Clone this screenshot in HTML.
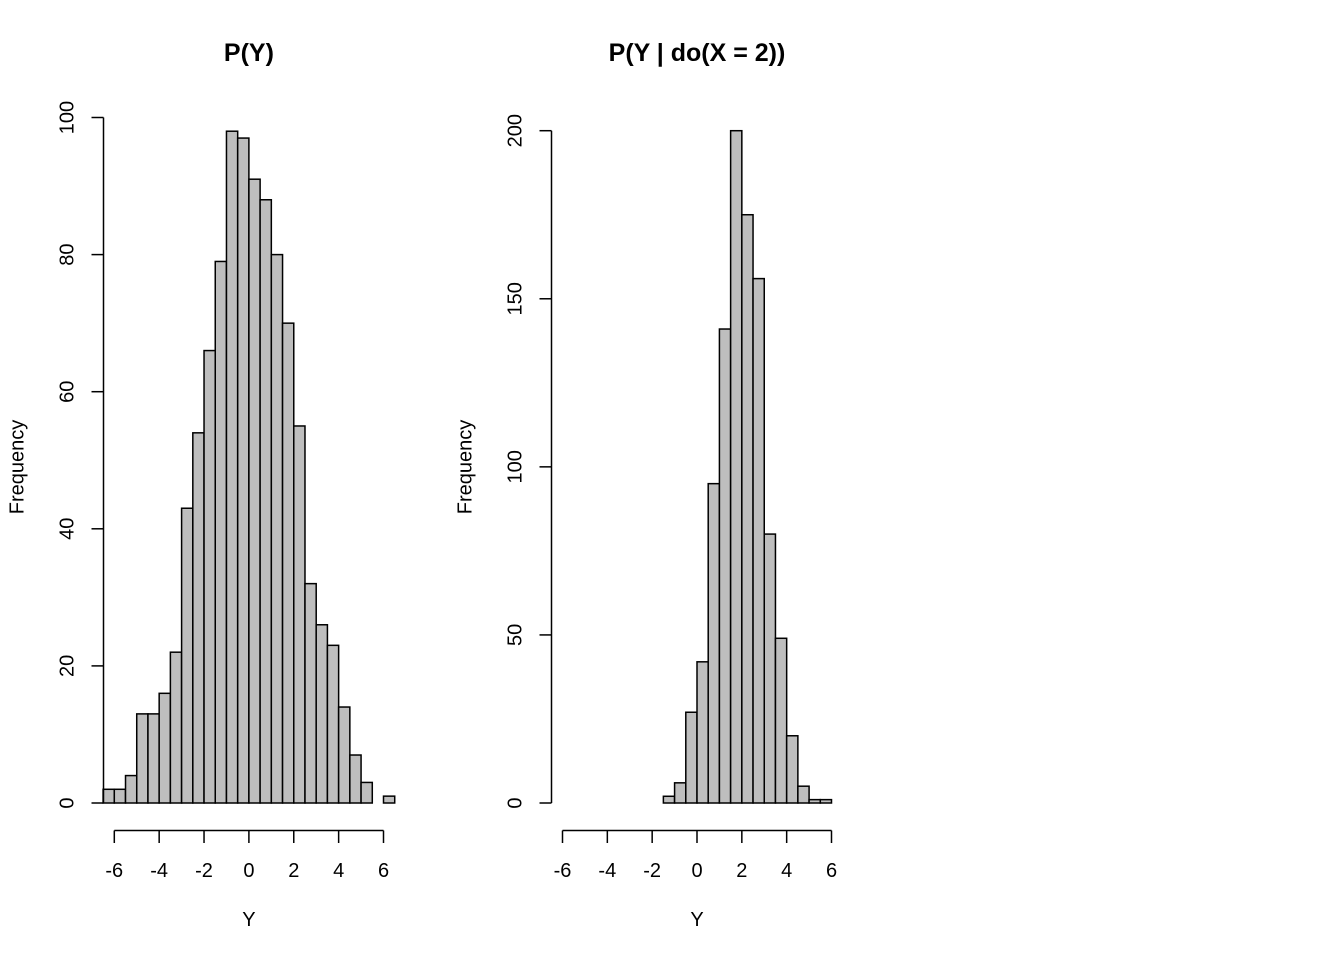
<!DOCTYPE html>
<html><head><meta charset="utf-8"><style>
body{margin:0;background:#fff}
svg{display:block;font-family:"Liberation Sans",Arial,sans-serif}
</style></head><body>
<svg id="c" width="1344" height="960" viewBox="0 0 1344 960"></svg>
<script>
const leftBinStart = -6.5;
const leftCounts = [2,2,4,13,13,16,22,43,54,66,79,98,97,91,88,80,70,55,32,26,23,14,7,3,0,1];
const leftYTicks = [0,20,40,60,80,100];
const rightBinStart = -1.5;
const rightCounts = [2,6,27,42,95,141,200,175,156,80,49,20,5,1,1];
const rightYTicks = [0,50,100,150,200];
const xTicks = [-6,-4,-2,0,2,4,6];
const binWidth = 0.5;

const NS = "http://www.w3.org/2000/svg";
const svg = document.getElementById('c');
function mk(tag, attrs, parent){
  const e = document.createElementNS(NS, tag);
  for (const k in attrs) e.setAttribute(k, attrs[k]);
  (parent||svg).appendChild(e);
  return e;
}
function panel(cfg){
  const g = mk('g', {});
  
  
  const sx = v => cfg.x0 + (v + 6) * (cfg.x6 - cfg.x0) / 12;
  const sy = v => 803 - v * (803 - cfg.yTop) / cfg.yMax;
  cfg.counts.forEach((c, i) => {
    if (c <= 0) return;
    const a = cfg.start + i * binWidth;
    const r = mk('rect', {x: sx(a), y: sy(c), width: sx(a + binWidth) - sx(a), height: sy(0) - sy(c),
      fill: '#bebebe', stroke: '#000', 'stroke-width': 1.5}, g);
    
    
  });
  const ya = mk('g', {}, g);
  
  
  mk('line', {x1: cfg.ax, x2: cfg.ax, y1: sy(cfg.yTicks[0]), y2: sy(cfg.yTicks[cfg.yTicks.length-1]), stroke: '#000', 'stroke-width': 1.5}, ya);
  cfg.yTicks.forEach(t => {
    mk('line', {x1: cfg.ax - 12, x2: cfg.ax, y1: sy(t), y2: sy(t), stroke: '#000', 'stroke-width': 1.5}, ya);
    const tx = mk('text', {x: 0, y: 0, transform: `translate(${cfg.ax - 30},${sy(t)}) rotate(-90)`, 'text-anchor': 'middle', 'font-size': 20}, ya);
    tx.textContent = t;
    
    
  });
  const xa = mk('g', {}, g);
  
  
  mk('line', {x1: sx(xTicks[0]), x2: sx(xTicks[xTicks.length-1]), y1: 830.5, y2: 830.5, stroke: '#000', 'stroke-width': 1.5}, xa);
  xTicks.forEach(t => {
    mk('line', {x1: sx(t), x2: sx(t), y1: 830.5, y2: 843, stroke: '#000', 'stroke-width': 1.5}, xa);
    const tx = mk('text', {x: sx(t), y: 877, 'text-anchor': 'middle', 'font-size': 20}, xa);
    tx.textContent = t;
    
    
  });
  const cx = (cfg.x0 + cfg.x6) / 2;
  const tt = mk('text', {x: cx, y: 61, 'text-anchor': 'middle', 'font-size': 25, 'font-weight': 'bold'}, g);
  tt.textContent = cfg.title;
  
  
  const xl = mk('text', {x: cx, y: 926, 'text-anchor': 'middle', 'font-size': 20}, g);
  xl.textContent = 'Y';
  
  
  const yl = mk('text', {x: 0, y: 0, transform: `translate(${cfg.ax - 80},467) rotate(-90)`, 'text-anchor': 'middle', 'font-size': 20}, g);
  yl.textContent = 'Frequency';
  
  
}
panel({name: 'left-histogram', x0: 114.3, x6: 383.5, ax: 103.5, yTop: 117.5, yMax: 100,
  counts: leftCounts, start: leftBinStart, yTicks: leftYTicks, title: 'P(Y)'});
panel({name: 'right-histogram', x0: 562.5, x6: 831.5, ax: 551.5, yTop: 130.7, yMax: 200,
  counts: rightCounts, start: rightBinStart, yTicks: rightYTicks, title: 'P(Y | do(X = 2))'});
</script>
</body></html>
